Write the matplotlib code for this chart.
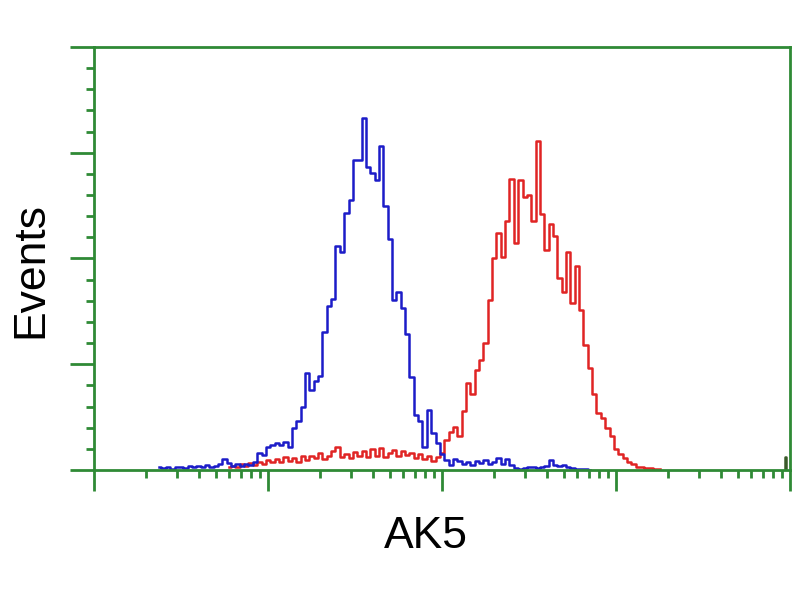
import numpy as np
import matplotlib
matplotlib.use("Agg")
import matplotlib.pyplot as plt
from matplotlib.ticker import FixedLocator, NullFormatter

# FCS-style channels: 40 channels per decade, 4 decades
CH_PER_DECADE = 40

# isotype control (blue), channels 15..114
blue_start = 15
blue_counts = [
    0.7, 0.5, 0.7, 0.3, 0.6, 0.8, 0.4, 0.9, 0.6, 1.0,
    0.7, 1.2, 0.8, 1.0, 1.4, 2.6, 1.6, 1.0, 1.3, 0.9,
    1.5, 1.2, 1.9, 4.0, 3.5, 5.4, 6.0, 6.4, 6.0, 6.5,
    5.5, 10.0, 11.5, 14.9, 22.9, 18.9, 21.0, 22.2, 32.6, 38.8,
    40.4, 53.0, 51.5, 60.8, 63.8, 73.3, 73.3, 83.2, 71.6, 70.2,
    68.6, 76.6, 62.4, 54.6, 40.2, 42.0, 38.3, 32.1, 22.0, 13.0,
    11.6, 5.5, 14.2, 8.7, 6.4, 3.8, 2.4, 1.2, 2.6, 2.2,
    1.4, 2.0, 1.2, 2.2, 1.6, 2.4, 1.4, 2.0, 2.8, 1.4,
    2.6, 1.2, 0.5, 0.3, 0.4, 0.6, 0.6, 0.5, 0.6, 1.0,
    2.4, 1.2, 0.9, 1.2, 0.8, 0.5, 0.3, 0.2, 0.3, 0.1,
]

# AK5 antibody (red), channels 31..130
red_start = 31
red_counts = [
    0.6, 0.9, 0.7, 1.3, 1.0, 1.6, 1.2, 1.9, 1.4, 2.3,
    1.8, 2.6, 2.0, 3.0, 2.2, 2.8, 2.0, 3.2, 2.4, 3.4,
    2.8, 4.0, 2.6, 3.4, 4.5, 5.4, 3.0, 3.8, 2.8, 4.2,
    3.2, 4.4, 3.0, 5.0, 3.4, 5.2, 3.0, 4.0, 4.8, 3.2,
    4.4, 3.6, 4.0, 2.8, 3.8, 2.6, 3.4, 2.2, 3.0, 4.0,
    7.0, 9.0, 10.2, 8.0, 14.0, 20.6, 18.0, 23.6, 26.0, 30.0,
    40.2, 50.0, 56.0, 50.4, 58.9, 68.8, 53.7, 68.6, 64.5, 65.0,
    58.9, 77.8, 60.5, 52.0, 58.2, 55.3, 45.4, 42.1, 51.5, 39.5,
    48.2, 37.8, 29.5, 24.0, 18.0, 13.5, 12.3, 10.0, 8.0, 5.0,
    3.8, 2.8, 2.0, 1.4, 0.8, 0.7, 0.5, 0.4, 0.3, 0.2,
]
# pile-up in the last channel
red_last_channel = 159
red_last_count = 3.0

GREEN = "#2f8a35"
BLUE = "#1c1cc8"
RED = "#e02424"

blue_x = 10 ** (np.arange(blue_start, blue_start + len(blue_counts)) / CH_PER_DECADE)
red_x = 10 ** (np.arange(red_start, red_start + len(red_counts)) / CH_PER_DECADE)
last_x = 10 ** (red_last_channel / CH_PER_DECADE)

fig = plt.figure(figsize=(8, 6), dpi=100)
ax = fig.add_axes([0.1175, 0.2167, 0.870, 0.705])

ax.plot(red_x, red_counts, drawstyle="steps-mid", color=RED, lw=1.8)
ax.plot([last_x * 0.985, last_x, last_x * 1.01], [0, red_last_count, 0],
        drawstyle="steps-mid", color="#3a5a2a", lw=1.8)
ax.plot(blue_x, blue_counts, drawstyle="steps-mid", color=BLUE, lw=1.8)

ax.set_xscale("log")
ax.set_xlim(1, 1e4)
ax.set_ylim(0, 100)

for s in ax.spines.values():
    s.set_color(GREEN); s.set_linewidth(2)

ax.xaxis.set_major_locator(FixedLocator([1, 10, 100, 1000, 10000]))
ax.xaxis.set_minor_locator(FixedLocator([m * 10 ** d for d in range(4) for m in range(2, 10)]))
ax.yaxis.set_major_locator(FixedLocator([0, 25, 50, 75, 100]))
ax.yaxis.set_minor_locator(FixedLocator([v for v in range(0, 101, 5) if v % 25]))
ax.xaxis.set_major_formatter(NullFormatter()); ax.xaxis.set_minor_formatter(NullFormatter())
ax.yaxis.set_major_formatter(NullFormatter()); ax.yaxis.set_minor_formatter(NullFormatter())
ax.tick_params(which="major", length=17, width=2, color=GREEN, direction="out")
ax.tick_params(which="minor", length=6, width=2, color=GREEN, direction="out")
ax.tick_params(axis="x", which="major", length=15)
ax.tick_params(axis="x", which="minor", length=6)

fig.text(0.038, 0.55, "Events", rotation=90, ha="center", va="center",
         fontsize=32, family="Liberation Sans")
fig.text(0.532, 0.105, "AK5", ha="center", va="center",
         fontsize=32, family="Liberation Sans")

fig.savefig("out.png", dpi=100)
